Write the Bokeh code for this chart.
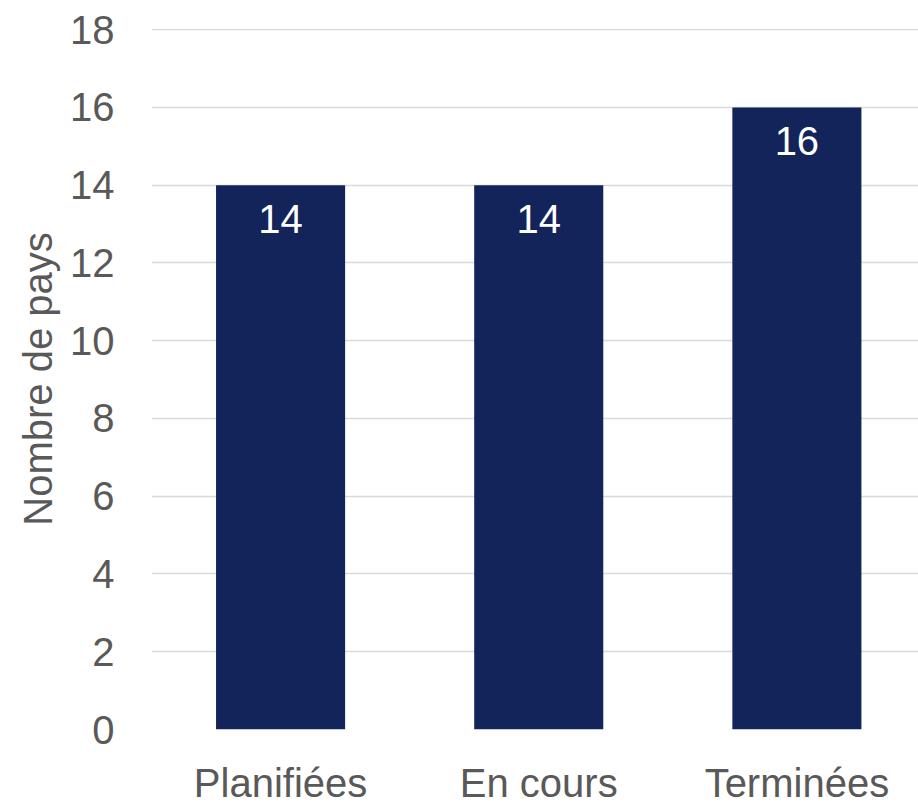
from bokeh.plotting import figure
from bokeh.models import ColumnDataSource, LabelSet, Range1d, FixedTicker
from bokeh.core.properties import value
from bokeh.embed import file_html
from bokeh.resources import INLINE

categories = ["Planifiées", "En cours", "Terminées"]
values = [14, 14, 16]
y_ticks = [0, 2, 4, 6, 8, 10, 12, 14, 16, 18]
y_label = "Nombre de pays"

xs = list(range(len(categories)))
src = ColumnDataSource(dict(x=xs, top=values, lab=[str(v) for v in values]))

FONT = "Liberation Sans"
GREY = "#595959"
NAVY = "#12245A"

p = figure(width=918, height=808, output_backend="svg", toolbar_location=None,
           x_range=Range1d(-0.5, 2.4711), y_range=Range1d(0, 18.03),
           min_border_left=151, min_border_right=0, min_border_top=28, min_border_bottom=79)
p.outline_line_color = None
p.background_fill_color = "white"
p.border_fill_color = "white"

p.vbar(x="x", top="top", bottom=0, width=0.5, source=src, fill_color=NAVY, line_color=None)

labels = LabelSet(x="x", y="top", text="lab", source=src, text_align="center",
                  text_baseline="top", y_offset=-20, text_color="white",
                  text_font=value(FONT), text_font_size="40px")
p.add_layout(labels)

p.xgrid.grid_line_color = None
p.ygrid.grid_line_color = "#D9D9D9"
p.ygrid.grid_line_width = 1.5
p.ygrid.ticker = FixedTicker(ticks=y_ticks)

p.xaxis.ticker = FixedTicker(ticks=xs)
p.xaxis.major_label_overrides = {i: c for i, c in enumerate(categories)}
p.xaxis.major_label_standoff = 25

p.yaxis.ticker = FixedTicker(ticks=y_ticks)
p.yaxis.axis_label = y_label
p.yaxis.axis_label_text_font = FONT
p.yaxis.axis_label_text_font_size = "40px"
p.yaxis.axis_label_text_font_style = "normal"
p.yaxis.axis_label_text_color = GREY
p.yaxis.axis_label_standoff = 7
p.yaxis.major_label_standoff = 31

for ax in (p.xaxis, p.yaxis):
    ax.axis_line_color = None
    ax.major_tick_line_color = None
    ax.minor_tick_line_color = None
    ax.major_label_text_font = FONT
    ax.major_label_text_font_size = "40px"
    ax.major_label_text_color = GREY

open("out.html", "w").write(file_html(p, INLINE))
